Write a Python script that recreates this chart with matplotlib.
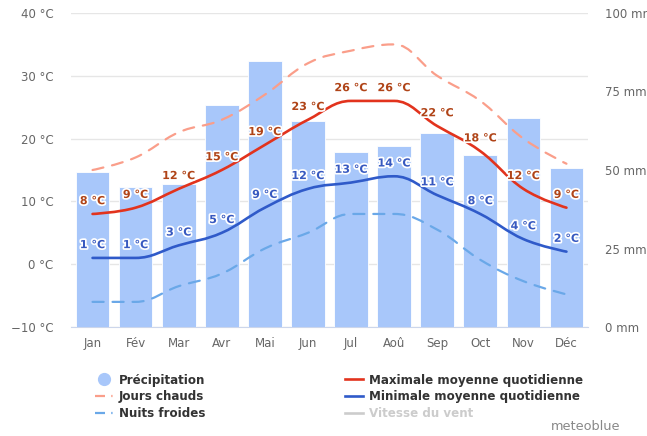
import matplotlib
matplotlib.use("Agg")
import matplotlib.pyplot as plt
from matplotlib.path import Path
from matplotlib.patches import PathPatch
from matplotlib.lines import Line2D
import matplotlib.patheffects as pe
import numpy as np

months = ["Jan", "Fév", "Mar", "Avr", "Mai", "Jun", "Jul", "Aoû", "Sep", "Oct", "Nov", "Déc"]
precip_mm = [49.5, 44.7, 45.7, 70.7, 84.7, 65.7, 55.8, 57.6, 61.7, 54.8, 66.7, 50.6]
temp_max = [8, 9, 12, 15, 19, 23, 26, 26, 22, 18, 12, 9]
temp_min = [1, 1, 3, 5, 9, 12, 13, 14, 11, 8, 4, 2]
hot_days = [15, 17, 21, 23, 27, 32, 34, 35, 30, 26, 20, 16]
cold_nights = [-6, -6, -3.5, -1.5, 2.5, 5, 8, 8, 5.5, 0.7, -2.7, -4.8]
temp_ticks = [-10, 0, 10, 20, 30, 40]
mm_ticks = [0, 25, 50, 75, 100]

W, H = 647, 436
fig = plt.figure(figsize=(W / 100, H / 100), dpi=100)
rect = [71 / W, 1 - 327 / H, (588 - 71) / W, (327 - 13) / H]
ax = fig.add_axes(rect)
ax2 = ax.twinx()
ax3 = fig.add_axes(rect, sharex=ax)

ax.set_zorder(0)
ax2.set_zorder(1)
ax3.set_zorder(2)
ax2.patch.set_visible(False)
ax3.patch.set_visible(False)

x = np.arange(len(months))

# background axes: temperature grid, ticks
ax.set_xlim(-0.5, len(months) - 0.5)
ax.set_ylim(-10, 40)
ax.set_yticks(temp_ticks)
ax.set_yticklabels([f"{v} °C".replace("-", "−") for v in temp_ticks])
ax.set_xticks(x)
ax.set_xticklabels(months)
ax.grid(axis="y", color="#e6e6e6", linewidth=1)
ax.set_axisbelow(True)

# precipitation bars
ax2.bar(x, precip_mm, width=0.78, color="#a8c7fa", edgecolor="white", linewidth=0.6)
ax2.set_ylim(0, 100)
ax2.set_yticks(mm_ticks)
ax2.set_yticklabels([f"{v} mm" for v in mm_ticks])

for a in (ax, ax2):
    for s in a.spines.values():
        s.set_visible(False)
    a.tick_params(length=0, labelsize=8.5, labelcolor="#666666")
ax.spines["bottom"].set_visible(True)
ax.spines["bottom"].set_color("#ccd6eb")
ax.tick_params(axis="y", pad=12.5)
ax.tick_params(axis="x", pad=7)
ax2.tick_params(axis="y", pad=12.5)

# foreground temperature axes
ax3.set_ylim(-10, 40)
ax3.axis("off")


def spline_path(xs, ys, smoothing=1.5):
    n = len(xs)
    denom = smoothing + 1
    lc = []
    rc = []
    for i in range(n):
        px, py = xs[i], ys[i]
        if i == 0 or i == n - 1:
            lc.append((px, py))
            rc.append((px, py))
            continue
        lx, ly = xs[i - 1], ys[i - 1]
        nx, ny = xs[i + 1], ys[i + 1]
        lcx = (smoothing * px + lx) / denom
        lcy = (smoothing * py + ly) / denom
        rcx = (smoothing * px + nx) / denom
        rcy = (smoothing * py + ny) / denom
        corr = ((rcy - lcy) * (rcx - px)) / (rcx - lcx) + py - rcy
        lcy += corr
        rcy += corr
        if lcy > ly and lcy > py:
            lcy = max(ly, py)
            rcy = 2 * py - lcy
        elif lcy < ly and lcy < py:
            lcy = min(ly, py)
            rcy = 2 * py - lcy
        if rcy > ny and rcy > py:
            rcy = max(ny, py)
            lcy = 2 * py - rcy
        elif rcy < ny and rcy < py:
            rcy = min(ny, py)
            lcy = 2 * py - rcy
        lc.append((lcx, lcy))
        rc.append((rcx, rcy))
    verts = [(xs[0], ys[0])]
    codes = [Path.MOVETO]
    for i in range(1, n):
        verts += [rc[i - 1], lc[i], (xs[i], ys[i])]
        codes += [Path.CURVE4] * 3
    return Path(verts, codes)


def draw(ys, color, lw, ls):
    p = spline_path(list(x.astype(float)), list(map(float, ys)))
    patch = PathPatch(p, facecolor="none", edgecolor=color, linewidth=lw,
                      linestyle=ls, capstyle="round", zorder=3)
    ax3.add_patch(patch)


draw(hot_days, "#fa9e8a", 1.6, (0, (5, 4)))
draw(cold_nights, "#6aa8e8", 1.6, (0, (5, 4)))
draw(temp_max, "#e2331d", 1.9, "-")
draw(temp_min, "#2f5ac9", 1.9, "-")

outline = [pe.withStroke(linewidth=2.5, foreground="white")]
for i in x:
    ax3.annotate(f"{temp_max[i]} °C", (i, temp_max[i]), xytext=(0, 9.2), textcoords="offset points",
                 ha="center", va="center", fontsize=8, fontweight="bold", color="#b04418",
                 path_effects=outline, zorder=5)
    ax3.annotate(f"{temp_min[i]} °C", (i, temp_min[i]), xytext=(0, 9.2), textcoords="offset points",
                 ha="center", va="center", fontsize=8, fontweight="bold", color="#3759c0",
                 path_effects=outline, zorder=5)

# legend (two columns as two legends)
dash_dot = (0, (4.5, 2.8, 0.6, 3))
handles_l = [
    Line2D([], [], marker="o", linestyle="none", markersize=8.5, color="#a8c7fa"),
    Line2D([], [], color="#fa9e8a", linewidth=1.6, linestyle=dash_dot),
    Line2D([], [], color="#6aa8e8", linewidth=1.6, linestyle=dash_dot),
]
labels_l = ["Précipitation", "Jours chauds", "Nuits froides"]
handles_r = [
    Line2D([], [], color="#e2331d", linewidth=1.9),
    Line2D([], [], color="#2f5ac9", linewidth=1.9),
    Line2D([], [], color="#cccccc", linewidth=1.9),
]
labels_r = ["Maximale moyenne quotidienne", "Minimale moyenne quotidienne", "Vitesse du vent"]

common = dict(loc="upper left", frameon=False, fontsize=8.6, handlelength=1.5, handletextpad=0.5,
              labelspacing=0.31, borderpad=0, borderaxespad=0)
leg1 = fig.legend(handles_l, labels_l, bbox_to_anchor=(95 / W, 1 - 373.5 / H), **common)
leg2 = fig.legend(handles_r, labels_r, bbox_to_anchor=(345 / W, 1 - 373.5 / H), **common)
for leg in (leg1, leg2):
    for t in leg.get_texts():
        t.set_fontweight("bold")
        t.set_color("#333333")
leg2.get_texts()[2].set_color("#cccccc")

fig.text(620 / W, 1 - 426 / H, "meteoblue", ha="right", va="center", fontsize=9.3, color="#888888")

fig.savefig("out.png", dpi=100)
